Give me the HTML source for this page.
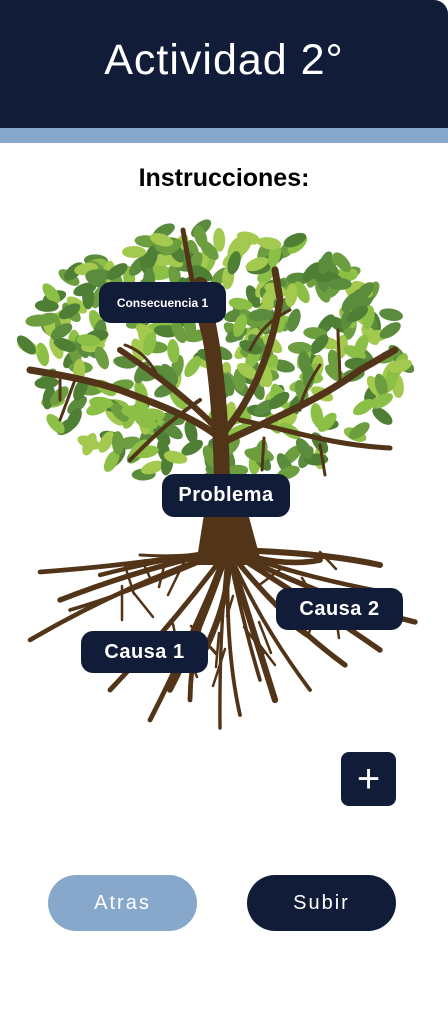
<!DOCTYPE html>
<html><head><meta charset="utf-8"><style>
*{margin:0;padding:0;box-sizing:border-box}
body{width:448px;height:1014px;background:#fff;font-family:"Liberation Sans",sans-serif;position:relative;overflow:hidden}
.hdr{position:absolute;left:0;top:0;width:448px;height:128px;background:#111c39;border-top-right-radius:14px}
.hdr h1{position:absolute;left:0;width:448px;top:36px;text-align:center;color:#fff;font-weight:400;font-size:43px;letter-spacing:1px}
.band{position:absolute;left:0;top:128px;width:448px;height:15px;background:#88a8cb}
.ins{position:absolute;left:0;width:448px;top:164px;text-align:center;font-weight:700;font-size:25px;color:#000}
.tag{position:absolute;background:#111c39;color:#fff;border-radius:12px;display:flex;align-items:center;justify-content:center;font-weight:700}
.btn{position:absolute;top:875px;width:149px;height:56px;border-radius:28px;display:flex;align-items:center;justify-content:center;font-size:20px;letter-spacing:2px;color:#fff}
</style></head><body>
<div class="hdr"><h1>Actividad 2°</h1></div>
<div class="band"></div>
<div class="ins">Instrucciones:</div>
<svg id="t" width="448" height="1014" style="position:absolute;left:0;top:0">
<g id="leaves"></g>
<g fill="none" stroke="#523418" stroke-linecap="round">
<path d="M222 500 C222 450 220 410 215 370 C212 340 205 310 200 285" stroke-width="16"/>
<path d="M222 440 C200 420 160 405 120 390 C90 380 60 375 30 370" stroke-width="7"/>
<path d="M218 430 C190 400 150 370 120 350" stroke-width="6"/>
<path d="M226 430 C250 400 270 360 280 300 L275 270" stroke-width="7"/>
<path d="M228 440 C270 420 320 400 360 370 L395 350" stroke-width="7"/>
<path d="M240 420 C290 430 330 445 390 448" stroke-width="5"/>
<path d="M215 370 C200 330 190 270 183 230" stroke-width="5"/>
<path d="M200 400 C170 420 150 440 130 460" stroke-width="4"/>
<path d="M160 380 C150 360 140 350 125 345" stroke-width="3"/>
<path d="M340 385 C340 360 338 345 338 330" stroke-width="3"/>
<path d="M300 410 C300 400 310 380 320 365" stroke-width="3"/>
<path d="M60 380 L60 400 M75 380 L60 420" stroke-width="3"/>
<path d="M250 350 C260 330 270 320 290 310" stroke-width="3"/>
<path d="M264 438 L262 470 M320 445 L325 475" stroke-width="3"/>
</g>
<g id="roots" fill="none" stroke="#523418" stroke-linecap="round"></g>
<path d="M207 495 L243 495 L262 565 L196 565 Z" fill="#523418"/>
</svg>
<div class="tag" style="left:99px;top:282px;width:127px;height:41px;font-size:12px">Consecuencia 1</div>
<div class="tag" style="left:162px;top:474px;width:128px;height:43px;font-size:20px;letter-spacing:.5px">Problema</div>
<div class="tag" style="left:276px;top:588px;width:127px;height:42px;font-size:20px;letter-spacing:.5px">Causa 2</div>
<div class="tag" style="left:81px;top:631px;width:127px;height:42px;font-size:20px;letter-spacing:.5px">Causa 1</div>
<div class="tag" style="left:341px;top:752px;width:55px;height:54px;border-radius:8px;font-size:40px;font-weight:400">+</div>
<div class="btn" style="left:48px;background:#88a8cb">Atras</div>
<div class="btn" style="left:247px;background:#111c39">Subir</div>
<script>
var s=7;function r(){s=(s*16807)%2147483647;return s/2147483647;}
var g=document.getElementById('leaves'),h='',cols=['#5b8c3e','#8cbf45','#6c9e3f','#a3c94f','#4f7f35'];
for(var i=0;i<380;i++){var a=r()*6.283,d=Math.sqrt(r());var x=215+Math.cos(a)*d*190,y=355+Math.sin(a)*d*130;
if(y>495)continue;h+='<ellipse cx="'+x.toFixed(1)+'" cy="'+y.toFixed(1)+'" rx="12" ry="6" fill="'+cols[i%5]+'" transform="rotate('+(r()*180|0)+' '+x.toFixed(1)+' '+y.toFixed(1)+')"/>';}
g.innerHTML=h;
var R=document.getElementById('roots'),q='';
var ends=[[40,572],[30,640],[70,610],[110,690],[150,720],[190,700],[220,728],[240,715],[275,700],[310,690],[345,665],[380,650],[415,622],[400,595],[380,565],[320,560],[140,555],[60,600],[100,575],[260,680],[170,690],[200,660]];
for(var j=0;j<ends.length;j++){var e=ends[j],mx=(228+e[0])/2+(r()-.5)*40,my=(555+e[1])/2+(r()-.5)*30;
q+='<path d="M228 550 Q'+mx.toFixed(0)+' '+my.toFixed(0)+' '+e[0]+' '+e[1]+'" stroke-width="'+(3+r()*4).toFixed(1)+'"/>';
q+='<path d="M'+mx.toFixed(0)+' '+my.toFixed(0)+' l'+((r()-.5)*50).toFixed(0)+' '+(15+r()*25).toFixed(0)+'" stroke-width="2.5"/>';}
R.innerHTML=q;
</script>
</body></html>
